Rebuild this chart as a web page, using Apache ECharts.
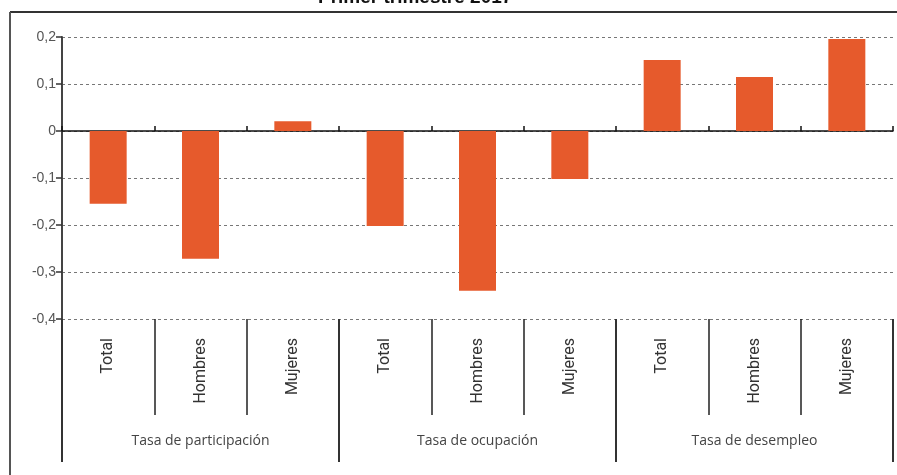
<!DOCTYPE html>
<html>
<head>
<meta charset="utf-8">
<script src="https://cdn.jsdelivr.net/npm/echarts@6/dist/echarts.min.js"></script>
<style>html,body{margin:0;padding:0;background:#fff;}#c{width:897px;height:475px;}</style>
</head>
<body>
<div id="c"></div>
<script>
var categories = ['Total', 'Hombres', 'Mujeres', 'Total', 'Hombres', 'Mujeres', 'Total', 'Hombres', 'Mujeres'];
var groups = ['Tasa de participación', 'Tasa de ocupación', 'Tasa de desempleo'];
var values = [-0.155, -0.272, 0.021, -0.202, -0.34, -0.102, 0.151, 0.115, 0.196];
var titleText = 'Primer trimestre 2017';

var chart = echarts.init(document.getElementById('c'));
chart.setOption({
  animation: false,
  backgroundColor: '#fff',
  grid: { left: 62, right: 4, top: 37, bottom: 156 },
  graphic: [
    { type: 'line', shape: { x1: 10, y1: 12, x2: 897, y2: 12 }, style: { stroke: '#333', lineWidth: 2 } },
    { type: 'line', shape: { x1: 10, y1: 12, x2: 10, y2: 475 }, style: { stroke: '#555', lineWidth: 2 } },
    { type: 'text', left: 318, top: -12, style: { text: titleText, font: 'bold 19px "Liberation Sans", Arial, sans-serif', fill: '#111' } }
  ],
  xAxis: [
    {
      type: 'category', data: categories, position: 'bottom',
      axisLine: { show: false, onZero: false },
      axisTick: { show: true, interval: 0, length: 96, lineStyle: { color: '#222', width: 1.5 } },
      axisLabel: { interval: 0, rotate: 90, margin: 19, color: '#333', fontSize: 16, fontFamily: 'Roboto, sans-serif' }
    },
    {
      type: 'category', data: groups, position: 'bottom',
      axisLine: { show: false, onZero: false },
      axisTick: { show: true, interval: 0, length: 143, lineStyle: { color: '#333', width: 2 } },
      axisLabel: { interval: 0, margin: 115, color: '#444', fontSize: 14, fontFamily: '"Open Sans", "Noto Sans", sans-serif' }
    },
    {
      type: 'category', data: categories, position: 'bottom',
      axisLine: { show: true, onZero: true, lineStyle: { color: '#111', width: 1.5 } },
      axisTick: { show: true, inside: true, interval: 0, length: 5, lineStyle: { color: '#111', width: 1.5 } },
      axisLabel: { show: false }
    }
  ],
  yAxis: {
    type: 'value', min: -0.4, max: 0.2, interval: 0.1,
    axisLine: { show: true, lineStyle: { color: '#444', width: 2 } },
    axisTick: { show: true, length: 6, lineStyle: { color: '#333', width: 1.5 } },
    axisLabel: {
      margin: 6, color: '#555', fontSize: 14, fontFamily: '"Liberation Sans", Arial, sans-serif',
      formatter: function (v) { var r = Math.round(v * 10) / 10; return r === 0 ? '0' : String(r).replace('.', ','); }
    },
    splitLine: { show: true, lineStyle: { color: '#777', type: [3, 3], width: 1 } }
  },
  series: [{
    type: 'bar', data: values, xAxisIndex: 0, barWidth: 37,
    itemStyle: { color: '#E65A2C' }
  }]
});
</script>
</body>
</html>
